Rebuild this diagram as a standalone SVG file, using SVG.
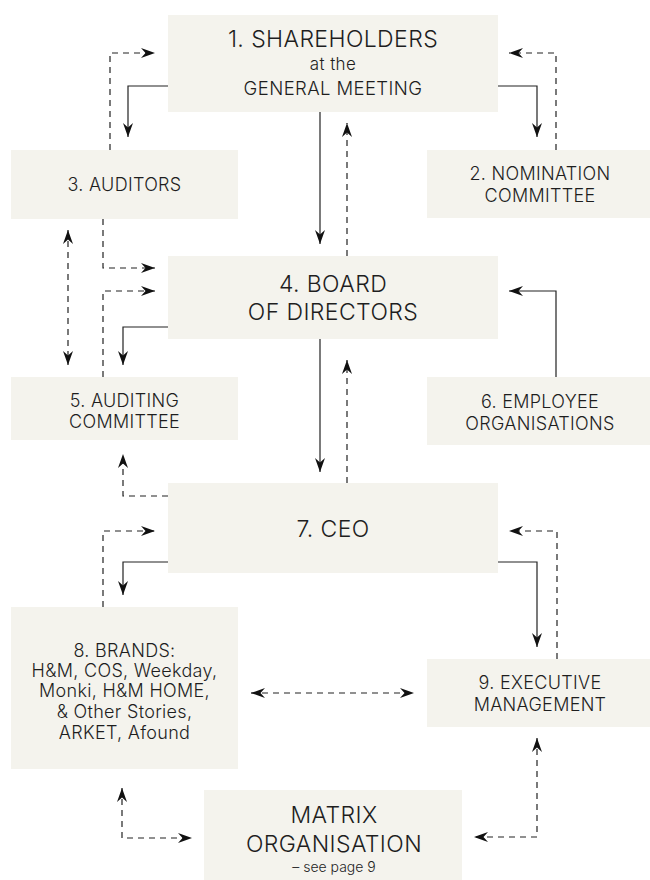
<svg xmlns="http://www.w3.org/2000/svg" width="650" height="880" viewBox="0 0 650 880">
<style>
.box{fill:#f4f3ed}
text{font-family:Inter,"Liberation Sans",Arial,sans-serif;font-weight:300;fill:#1e1e1e;text-anchor:middle}
.big{font-size:23px;letter-spacing:0.4px}
.med{font-size:18px;letter-spacing:0.3px}
.sm{font-size:14px}
.c{fill:none;stroke:#222;stroke-width:1.2}
.d{stroke-dasharray:6 5}
.a{marker-end:url(#ah)}
.b{marker-start:url(#ah);marker-end:url(#ah)}
</style>
<defs>
<marker id="ah" viewBox="0 0 14 11" refX="14" refY="5.5" markerWidth="14" markerHeight="11" markerUnits="userSpaceOnUse" orient="auto-start-reverse">
<path d="M0,0.5 L14,5.5 L0,10.5 L4.5,5.5 z" fill="#111"/>
</marker>
</defs>
<rect width="650" height="880" fill="#fff"/>
<g id="n1"><rect class="box" x="168" y="15" width="330" height="97"/>
<text class="big" x="333" y="47">1. SHAREHOLDERS</text>
<text x="333" y="70" style="font-size:17px;letter-spacing:0.4px">at the</text>
<text x="333" y="95" style="font-size:18.5px;letter-spacing:0.4px">GENERAL MEETING</text></g>
<g id="n2"><rect class="box" x="427" y="150" width="223" height="68"/>
<text class="med" x="540" y="180">2. NOMINATION</text>
<text class="med" x="540" y="202">COMMITTEE</text></g>
<g id="n3"><rect class="box" x="11" y="150" width="227" height="69"/>
<text class="med" x="124.5" y="191">3. AUDITORS</text></g>
<g id="n4"><rect class="box" x="168" y="256" width="330" height="83"/>
<text class="big" x="333" y="292">4. BOARD</text>
<text class="big" x="333" y="320">OF DIRECTORS</text></g>
<g id="n5"><rect class="box" x="11" y="377" width="227" height="63"/>
<text class="med" x="124.5" y="407">5. AUDITING</text>
<text class="med" x="124.5" y="428">COMMITTEE</text></g>
<g id="n6"><rect class="box" x="427" y="377" width="223" height="68"/>
<text class="med" x="540" y="408">6. EMPLOYEE</text>
<text class="med" x="540" y="430">ORGANISATIONS</text></g>
<g id="n7"><rect class="box" x="168" y="483" width="330" height="90"/>
<text class="big" x="333" y="537">7. CEO</text></g>
<g id="n8"><rect class="box" x="11" y="607" width="227" height="162"/>
<text class="med" x="124.5" y="657">8. BRANDS:</text>
<text class="med" x="124.5" y="677">H&amp;M, COS, Weekday,</text>
<text class="med" x="124.5" y="697">Monki, H&amp;M HOME,</text>
<text class="med" x="124.5" y="718">&amp; Other Stories,</text>
<text class="med" x="124.5" y="739">ARKET, Afound</text></g>
<g id="n9"><rect class="box" x="427" y="659" width="223" height="68"/>
<text class="med" x="540" y="689">9. EXECUTIVE</text>
<text class="med" x="540" y="711">MANAGEMENT</text></g>
<g id="n10"><rect class="box" x="204" y="790" width="258" height="90"/>
<text class="big" x="334" y="823">MATRIX</text>
<text class="big" x="334" y="852">ORGANISATION</text>
<text class="sm" x="334" y="872">– see page 9</text></g>
<g id="connectors">
<path class="c a" d="M168,86 H128 V137"/>
<path class="c d a" d="M110,150 V53 H155"/>
<path class="c a" d="M498,86 H537 V137"/>
<path class="c d a" d="M556,150 V53 H509"/>
<path class="c a" d="M320,112 V244"/>
<path class="c d a" d="M347,256 V123"/>
<path class="c d a" d="M103,219 V268 H155"/>
<path class="c d a" d="M103,377 V291 H155"/>
<path class="c a" d="M168,327 H123 V365"/>
<path class="c d b" d="M68,230 V365"/>
<path class="c a" d="M556,377 V291 H509"/>
<path class="c a" d="M320,339 V472"/>
<path class="c d a" d="M347,483 V360"/>
<path class="c d a" d="M168,496 H123 V454"/>
<path class="c d a" d="M103,607 V531 H155"/>
<path class="c a" d="M168,562 H123 V595"/>
<path class="c a" d="M498,562 H537 V647"/>
<path class="c d a" d="M557,659 V531 H509"/>
<path class="c d b" d="M251,693 H414"/>
<path class="c d b" d="M122,788 V838 H192"/>
<path class="c d b" d="M537,738 V837 H474"/>
</g>
</svg>
